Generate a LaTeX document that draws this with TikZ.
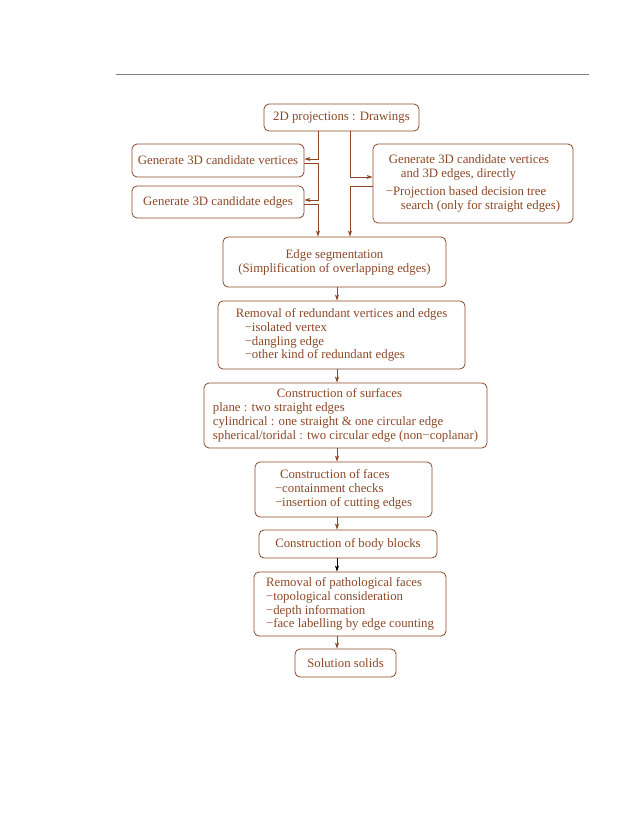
\documentclass[tikz,border=0pt]{standalone}
\usepackage{fontspec}
\setmainfont{Liberation Serif}
\usetikzlibrary{arrows.meta,calc}
\definecolor{brn}{RGB}{140,72,38}
\definecolor{rulegray}{RGB}{125,125,125}
\begin{document}
\begin{tikzpicture}[x=1pt,y=-1pt,
  box/.style={draw=brn,line width=0.8pt,rounded corners=5pt,text=brn,inner sep=0pt,
    font=\fontsize{12.8}{13.9}\selectfont},
  arr/.style={draw=brn,line width=0.8pt,-{Stealth[length=6pt,width=4pt,inset=1.5pt]}},
  darr/.style={draw=black,line width=0.8pt,-{Stealth[length=6pt,width=4pt,inset=1.5pt]}}]
\useasboundingbox (0,0) rectangle (638,826);
\draw[rulegray,line width=0.7pt] (116,74) -- (589,74);
\coordinate (xl) at (318,0);
\coordinate (xr) at (350,0);
\coordinate (xm) at (337,0);
\node[box,minimum width=155,minimum height=27] (b1) at (341.5,117.5) {2D projections : Drawings};
\node[box,minimum width=172,minimum height=33] (b2) at (218,160.5) {Generate 3D candidate vertices};
\node[box,minimum width=172,minimum height=32] (b3) at (218,202) {Generate 3D candidate edges};
\node[box,minimum width=200,minimum height=79,align=left] (b4) at (473,183.5)
  {\hspace*{3pt}Generate 3D candidate vertices\\ \hspace*{15pt}and 3D edges, directly\\[4pt]
   −Projection based decision tree\\ \hspace*{15pt}search (only for straight edges)};
\node[box,minimum width=223,minimum height=50,align=center] (b5) at (334.5,262)
  {Edge segmentation\\(Simplification of overlapping edges)};
\node[box,minimum width=247,minimum height=68,align=left] (b6) at (341.5,335)
  {Removal of redundant vertices and edges\\ \hspace*{9pt}−isolated vertex\\ \hspace*{9pt}−dangling edge\\ \hspace*{9pt}−other kind of redundant edges};
\node[box,minimum width=283,minimum height=65,align=left] (b7) at (345.5,415.5)
  {\hspace*{64pt}Construction of surfaces\\plane : two straight edges\\cylindrical : one straight \& one circular edge\\spherical/toridal : two circular edge (non−coplanar)};
\node[box,minimum width=177,minimum height=55,align=left] (b8) at (343.5,489.5)
  {\hspace*{5pt}Construction of faces\\−containment checks\\−insertion of cutting edges};
\node[box,minimum width=178,minimum height=28] (b9) at (348,544) {Construction of body blocks};
\node[box,minimum width=192,minimum height=64,align=left] (b10) at (350,604)
  {Removal of pathological faces\\−topological consideration\\−depth information\\−face labelling by edge counting};
\node[box,minimum width=101,minimum height=28] (b11) at (345.5,663) {Solution solids};
% left branch
\draw[arr] (b1.south -| xl) |- ([yshift=1.5pt]b2.east);
\draw[arr] ([yshift=-2.5pt]b2.east) -- ++(14pt,0) |- ([yshift=2pt]b3.east);
\draw[arr] ([yshift=-2pt]b3.east) -| (b5.north -| xl);
% right branch
\draw[arr] (b1.south -| xr) |- ([yshift=6.5pt]b4.west);
\draw[arr] ([yshift=-2.5pt]b4.west) -| (b5.north -| xr);
% main chain
\draw[arr] (b5.south -| xm) -- (b6.north -| xm);
\draw[arr] (b6.south -| xm) -- (b7.north -| xm);
\draw[arr] (b7.south -| xm) -- (b8.north -| xm);
\draw[arr] (b8.south -| xm) -- (b9.north -| xm);
\draw[darr] (b9.south -| xm) -- (b10.north -| xm);
\draw[arr] (b10.south -| xm) -- (b11.north -| xm);
\end{tikzpicture}
\end{document}
